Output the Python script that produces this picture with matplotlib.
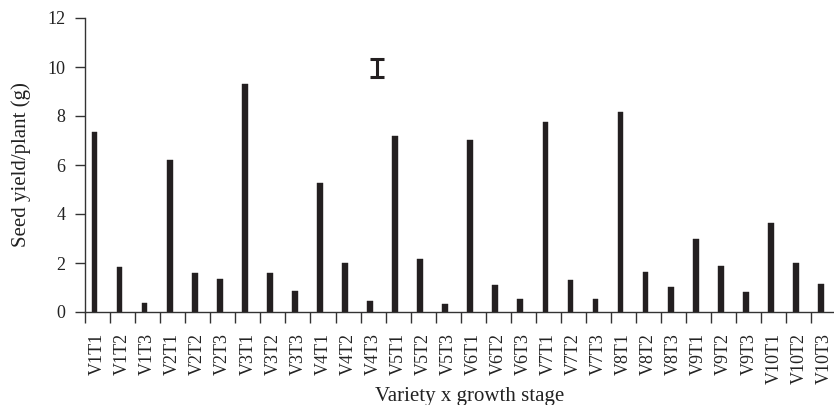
import numpy as np
import matplotlib
matplotlib.use("Agg")
import matplotlib.pyplot as plt

categories = ["V1T1", "V1T2", "V1T3", "V2T1", "V2T2", "V2T3", "V3T1", "V3T2", "V3T3",
              "V4T1", "V4T2", "V4T3", "V5T1", "V5T2", "V5T3", "V6T1", "V6T2", "V6T3",
              "V7T1", "V7T2", "V7T3", "V8T1", "V8T2", "V8T3", "V9T1", "V9T2", "V9T3",
              "V10T1", "V10T2", "V10T3"]
seed_yield = [7.36, 1.82, 0.38, 6.22, 1.58, 1.33, 9.29, 1.60, 0.87,
              5.28, 2.01, 0.44, 7.18, 2.15, 0.33, 7.03, 1.09, 0.54,
              7.77, 1.29, 0.53, 8.15, 1.65, 1.01, 2.97, 1.87, 0.83,
              3.63, 2.00, 1.14]
yticks = [0, 2, 4, 6, 8, 10, 12]
# LSD bar
lsd_x = 11.16
lsd_center = 9.96
lsd_half = 0.37

plt.rcParams['font.family'] = ['Liberation Serif', 'DejaVu Serif']
dark = "#231f20"
axis_col = "#333333"
text_col = "#222222"

fig = plt.figure(figsize=(8.34, 4.05), dpi=100)
W, H = 834, 405
ax = fig.add_axes([85 / W, 93 / H, 751.5 / W, 294 / H])

x = np.arange(len(categories))
ax.bar(x - 0.12, seed_yield, width=0.23, color=dark, edgecolor=dark, linewidth=0.3)

ax.errorbar([lsd_x], [lsd_center], yerr=[lsd_half], fmt='none', ecolor=dark,
            elinewidth=2.2, capsize=5, capthick=2.2)

ax.set_xlim(-0.5, len(categories) - 0.5)
ax.set_ylim(0, 12)
ax.set_yticks(yticks)
ax.set_yticklabels([str(v) for v in yticks], fontsize=13, color=text_col)

ax.set_xticks(x)
ax.set_xticklabels(categories, rotation=90, fontsize=13, color=text_col)
ax.set_xticks(np.arange(len(categories) + 1) - 0.5, minor=True)
ax.tick_params(axis='x', which='major', length=0, pad=15)
ax.tick_params(axis='x', which='minor', length=8, width=1, color=axis_col, direction='out')
ax.tick_params(axis='y', which='major', length=7, width=1, color=axis_col, pad=7, direction='out')

for s in ['top', 'right']:
    ax.spines[s].set_visible(False)
for s in ['left', 'bottom']:
    ax.spines[s].set_color(axis_col)
    ax.spines[s].set_linewidth(1)

ax.set_ylabel("Seed yield/plant (g)", fontsize=15, color=text_col)
ax.yaxis.set_label_coords(-0.072, 0.5)
ax.set_xlabel("Variety x growth stage", fontsize=15, color=text_col)
ax.xaxis.set_label_coords(0.512, -0.255)

fig.savefig("out.png", dpi=100)
